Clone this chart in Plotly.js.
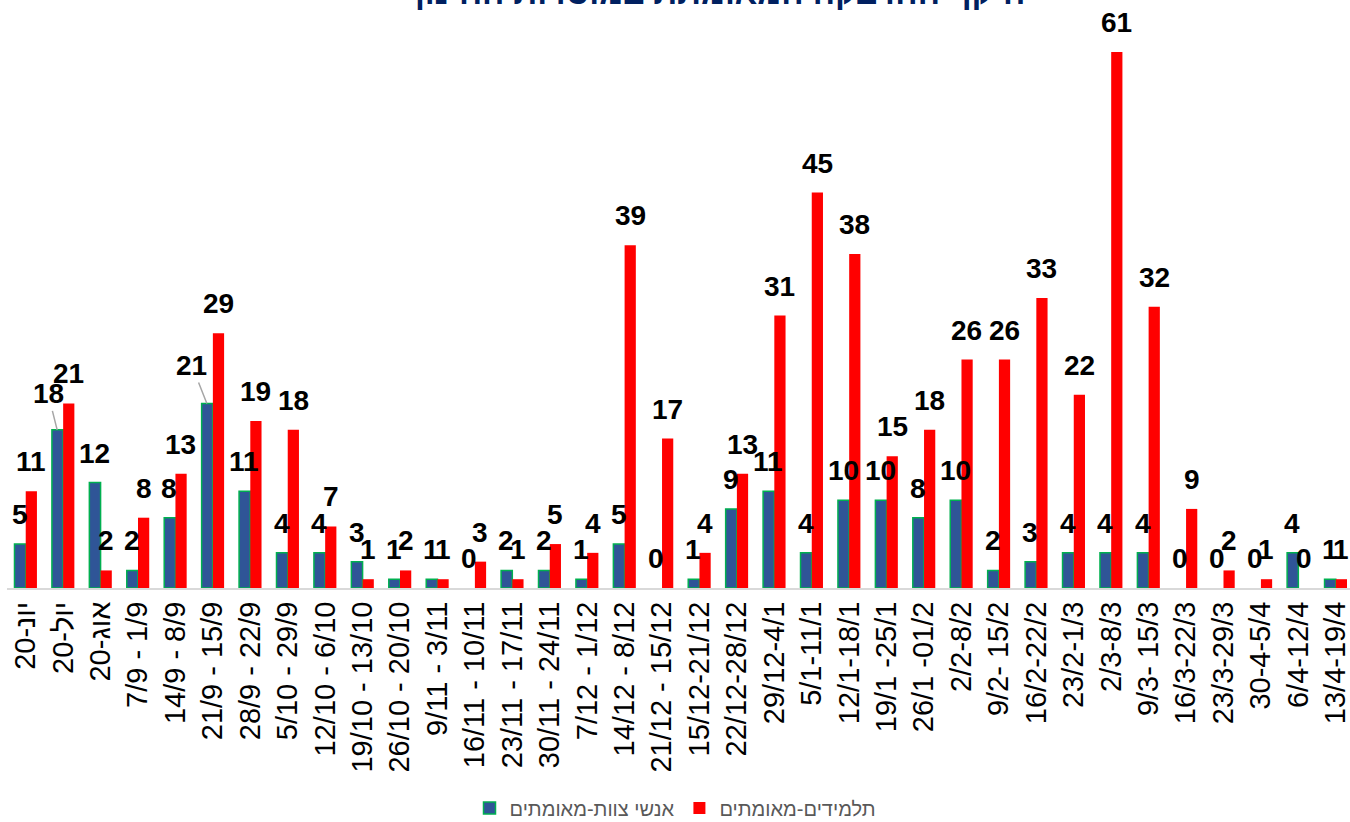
<!DOCTYPE html>
<html>
<head>
<meta charset="utf-8">
<script src="https://cdn.plot.ly/plotly-3.0.1.min.js"></script>
<style>
  html, body { margin: 0; padding: 0; background: #ffffff; }
  #chart { width: 1350px; height: 822px; }
</style>
</head>
<body>
<div id="chart"></div>
<script>
// ---- data ----
const categories = [
  "יונ-20", "יול-20", "אוג-20",
  "7/9 - 1/9", "14/9 - 8/9", "21/9 - 15/9", "28/9 - 22/9", "5/10 - 29/9",
  "12/10 - 6/10", "19/10 - 13/10", "26/10 - 20/10", "9/11 - 3/11",
  "16/11 - 10/11", "23/11 - 17/11", "30/11 - 24/11", "7/12 - 1/12",
  "14/12 - 8/12", "21/12 - 15/12", "15/12-21/12", "22/12-28/12",
  "29/12-4/1", "5/1-11/1", "12/1-18/1", "19/1 -25/1", "26/1 -01/2",
  "2/2-8/2", "9/2- 15/2", "16/2-22/2", "23/2-1/3", "2/3-8/3",
  "9/3- 15/3", "16/3-22/3", "23/3-29/3", "30-4-5/4", "6/4-12/4", "13/4-19/4"
];
const staffConfirmed = [
  5, 18, 12, 2, 8, 21, 11, 4, 4, 3, 1, 1, 0, 2, 2, 1, 5, 0,
  1, 9, 11, 4, 10, 10, 8, 10, 2, 3, 4, 4, 4, 0, 0, 0, 4, 1
];
const studentsConfirmed = [
  11, 21, 2, 8, 13, 29, 19, 18, 7, 1, 2, 1, 3, 1, 5, 4, 39, 17,
  4, 13, 31, 45, 38, 15, 18, 26, 26, 33, 22, 61, 32, 9, 2, 1, 0, 1
];
const seriesNames = ["אנשי צוות-מאומתים", "תלמידים-מאומתים"];
const chartTitle = "היקף ההדבקה המאומתת במוסדות החינוך";

// ---- styling ----
const FONT = "Liberation Sans, Arial, sans-serif";
const staffColor = "#2F5597";
const staffEdge = "#00B050";
const studentColor = "#FF0000";

const traces = [
  {
    type: "bar", name: seriesNames[0], x: categories, y: staffConfirmed,
    marker: {
      color: staffColor,
      line: { color: staffEdge, width: staffConfirmed.map(function (v) { return v > 0 ? 1.5 : 0; }) }
    },
    hoverinfo: "x+y+name"
  },
  {
    type: "bar", name: seriesNames[1], x: categories, y: studentsConfirmed,
    marker: { color: studentColor, line: { color: studentColor, width: 0 } },
    hoverinfo: "x+y+name"
  }
];

// value labels (built from the arrays); a couple were dragged aside in the original
const nudged = { "0-1": [-9, -36], "0-5": [-15, -38] };
const annotations = [];
[staffConfirmed, studentsConfirmed].forEach(function (vals, s) {
  vals.forEach(function (v, j) {
    const key = s + "-" + j;
    const base = {
      x: j, y: v, xref: "x", yref: "y",
      text: String(v),
      font: { family: FONT, size: 28, color: "#000000", weight: "bold" },
      xshift: s === 0 ? -6 : 5.5
    };
    if (nudged[key]) {
      Object.assign(base, {
        showarrow: true, arrowhead: 0, arrowwidth: 1.5, arrowcolor: "#A6A6A6",
        ax: nudged[key][0], ay: nudged[key][1], standoff: 0
      });
    } else {
      Object.assign(base, { showarrow: false, yanchor: "bottom", yshift: 12 });
    }
    annotations.push(base);
  });
});

const layout = {
  width: 1350, height: 822,
  paper_bgcolor: "#ffffff", plot_bgcolor: "#ffffff",
  margin: { l: 7, r: 0, t: 30, b: 234, autoexpand: false },
  barmode: "group", bargap: 0.4, bargroupgap: 0,
  title: {
    text: chartTitle,
    font: { family: FONT, size: 33, color: "#002060", weight: "bold" },
    x: 0.53, xanchor: "center", xref: "container",
    y: 1 - 4 / 822, yanchor: "bottom", yref: "container"
  },
  xaxis: {
    type: "category", range: [-0.5, 35.38],
    tickangle: -90, ticks: "", showgrid: false, zeroline: false,
    showline: true, linecolor: "#D9D9D9", linewidth: 2,
    tickfont: { family: FONT, size: 29, color: "#000000" },
    fixedrange: true
  },
  yaxis: {
    range: [0, 63.5], visible: false, showgrid: false, zeroline: false, fixedrange: true
  },
  showlegend: true,
  legend: {
    orientation: "h", x: 0.5, xanchor: "center", xref: "container",
    y: 14 / 822, yanchor: "middle", yref: "container",
    font: { family: FONT, size: 20, color: "#595959" },
    traceorder: "normal", bgcolor: "rgba(0,0,0,0)"
  },
  annotations: annotations
};

Plotly.newPlot("chart", traces, layout, { displayModeBar: false, staticPlot: true });
</script>
</body>
</html>
